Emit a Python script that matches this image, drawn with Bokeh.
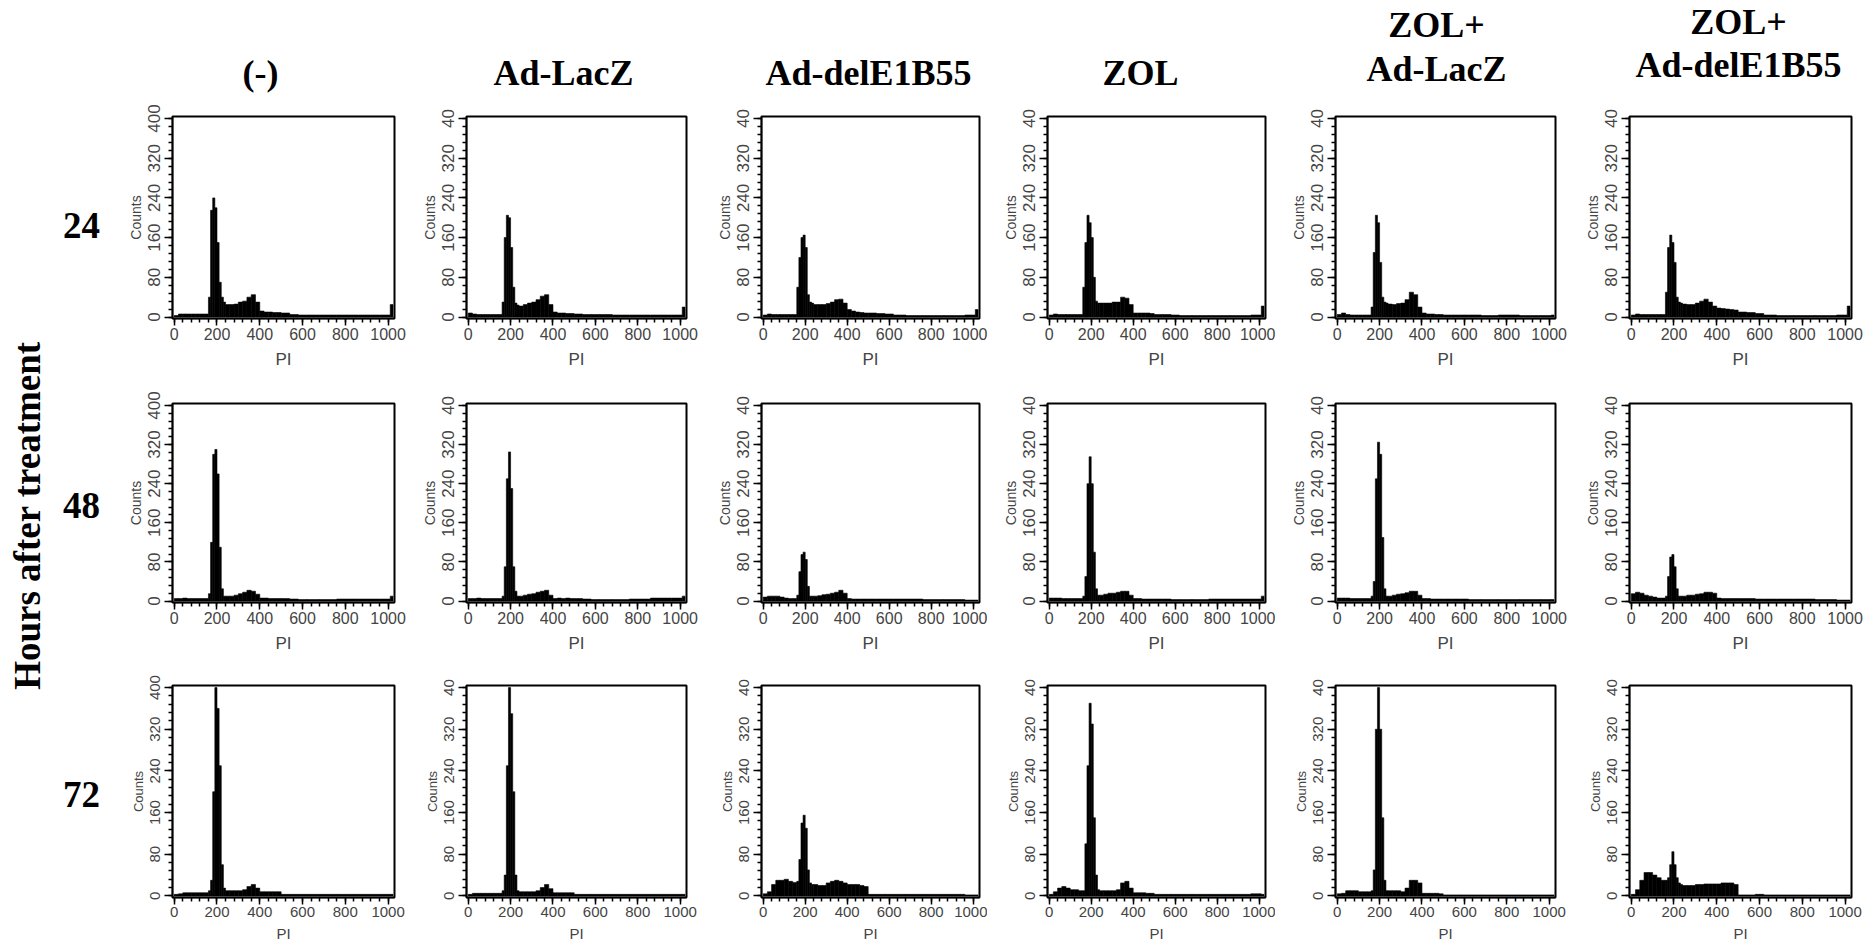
import math
from bokeh.plotting import figure
from bokeh.layouts import row, column
from bokeh.models import Range1d, FixedTicker
from bokeh.core.properties import value
from bokeh.embed import file_html
from bokeh.resources import INLINE

# ---------------- data ----------------
treatments = ["(-)", "Ad-LacZ", "Ad-delE1B55", "ZOL", "ZOL+\nAd-LacZ", "ZOL+\nAd-delE1B55"]
hours = ["24", "48", "72"]
side_title = "Hours after treatment"
x_label = "PI"
y_label = "Counts"
x_ticks = [0, 200, 400, 600, 800, 1000]
y_ticks = [0, 80, 160, 240, 320, 400]

# PI bin edges (channel units)
edges = [0, 20, 40, 60, 80, 100, 120, 140, 160, 170, 180, 190, 200, 210, 220, 230, 240,
         260, 280, 300, 320, 340, 360, 380, 400, 420, 440, 460, 480, 500, 540, 580, 620,
         680, 760, 860, 960, 1010, 1023]

# 24 h
h24_neg   = [3, 6, 6, 6, 6, 6, 6, 6, 40, 215, 240, 220, 150, 70, 40, 30, 25, 25, 26, 30, 32, 40, 45, 30, 12, 10, 10, 9, 9, 8, 5, 4, 4, 4, 4, 4, 4, 25]
h24_lacz  = [8, 6, 5, 5, 5, 5, 5, 5, 30, 160, 205, 200, 140, 60, 28, 24, 22, 25, 28, 30, 35, 42, 45, 25, 10, 8, 8, 7, 7, 6, 5, 5, 5, 4, 4, 4, 4, 20]
h24_del   = [4, 6, 5, 5, 5, 5, 5, 5, 60, 120, 160, 165, 140, 45, 30, 28, 25, 25, 25, 27, 30, 35, 36, 28, 15, 12, 10, 9, 8, 8, 7, 6, 4, 3, 3, 3, 4, 15]
h24_zol   = [4, 6, 5, 5, 5, 5, 5, 5, 60, 150, 205, 190, 160, 80, 32, 28, 28, 28, 28, 30, 30, 40, 38, 25, 8, 8, 8, 8, 7, 5, 5, 4, 3, 3, 3, 3, 4, 22]
h24_zlacz = [5, 8, 5, 4, 4, 4, 4, 4, 20, 130, 205, 190, 110, 40, 30, 28, 26, 25, 27, 28, 35, 50, 45, 20, 8, 6, 6, 5, 5, 4, 4, 4, 4, 3, 4, 3, 3, 4]
h24_zdel  = [4, 6, 5, 5, 5, 5, 5, 5, 50, 140, 165, 150, 110, 40, 30, 28, 26, 25, 25, 28, 32, 36, 30, 22, 18, 17, 16, 15, 14, 10, 9, 7, 4, 3, 3, 3, 4, 22]
# 48 h
h48_neg   = [5, 5, 6, 5, 5, 5, 5, 5, 15, 120, 300, 310, 260, 110, 25, 10, 10, 10, 12, 15, 18, 22, 20, 14, 6, 6, 5, 5, 5, 5, 4, 3, 3, 3, 4, 4, 4, 10]
h48_lacz  = [5, 5, 6, 5, 5, 5, 5, 5, 10, 70, 250, 305, 230, 70, 20, 10, 10, 12, 14, 15, 18, 20, 22, 12, 5, 6, 5, 6, 5, 5, 4, 3, 3, 3, 4, 6, 6, 10]
h48_del   = [8, 10, 10, 10, 8, 6, 5, 5, 12, 60, 95, 100, 85, 30, 10, 10, 10, 11, 13, 14, 16, 18, 22, 16, 5, 4, 4, 4, 4, 4, 4, 4, 4, 4, 3, 3, 2, 2]
h48_zol   = [6, 6, 6, 5, 5, 5, 5, 5, 10, 50, 240, 295, 240, 100, 25, 12, 12, 14, 16, 16, 18, 20, 20, 12, 5, 5, 4, 4, 4, 4, 4, 3, 3, 3, 4, 4, 4, 10]
h48_zlacz = [6, 6, 6, 5, 5, 5, 5, 5, 10, 40, 250, 325, 300, 130, 25, 10, 10, 12, 14, 15, 17, 20, 20, 12, 5, 5, 4, 4, 4, 4, 4, 4, 3, 3, 3, 3, 3, 3]
h48_zdel  = [15, 18, 16, 12, 10, 8, 6, 6, 10, 50, 90, 95, 70, 25, 10, 10, 10, 12, 12, 14, 15, 18, 18, 16, 6, 5, 5, 5, 5, 5, 5, 4, 4, 4, 4, 3, 2, 2]
# 72 h
h72_neg   = [3, 4, 6, 6, 6, 6, 6, 6, 10, 30, 200, 400, 360, 250, 60, 15, 10, 10, 10, 10, 12, 18, 22, 15, 8, 8, 8, 8, 8, 3, 3, 3, 3, 3, 3, 3, 3, 3]
h72_lacz  = [3, 5, 5, 5, 5, 5, 5, 5, 10, 40, 250, 400, 350, 200, 40, 10, 8, 8, 8, 8, 10, 16, 22, 14, 6, 6, 6, 6, 6, 3, 3, 3, 3, 3, 3, 3, 3, 3]
h72_del   = [4, 8, 22, 30, 30, 32, 28, 26, 28, 70, 140, 155, 130, 50, 25, 22, 22, 20, 20, 25, 28, 30, 28, 25, 22, 22, 22, 20, 18, 3, 3, 3, 3, 3, 3, 3, 2, 2]
h72_zol   = [3, 8, 15, 18, 15, 12, 12, 10, 10, 100, 250, 370, 330, 150, 40, 12, 10, 10, 10, 10, 12, 25, 28, 15, 6, 6, 6, 5, 5, 3, 3, 3, 3, 3, 3, 3, 4, 3]
h72_zlacz = [4, 5, 10, 10, 10, 8, 8, 8, 10, 50, 320, 400, 320, 150, 30, 10, 10, 10, 10, 8, 15, 30, 30, 25, 5, 5, 5, 5, 4, 2, 2, 2, 2, 2, 2, 2, 2, 2]
h72_zdel  = [3, 12, 30, 45, 45, 40, 35, 30, 30, 35, 60, 85, 60, 35, 25, 22, 20, 20, 20, 22, 22, 23, 23, 23, 23, 25, 25, 25, 22, 2, 2, 3, 2, 2, 2, 2, 2, 2]

panels = [
    [h24_neg, h24_lacz, h24_del, h24_zol, h24_zlacz, h24_zdel],
    [h48_neg, h48_lacz, h48_del, h48_zol, h48_zlacz, h48_zdel],
    [h72_neg, h72_lacz, h72_del, h72_zol, h72_zlacz, h72_zdel],
]
# top y tick label as printed (clipped "40" in most panels)
top_labels = [
    ["400", "40", "40", "40", "40", "40"],
    ["400", "40", "40", "40", "40", "40"],
    ["400", "40", "40", "40", "40", "40"],
]

# ---------------- layout (page pixels, origin at top-left of page) ----------------
PAGE_R = 1864
BL = 60
frame_left = [172, 466, 761, 1047, 1335, 1629]
frame_w = [222, 220, 218, 218, 220, 222]
fig_w = [frame_left[i + 1] - frame_left[i] for i in range(5)] + [PAGE_R - (frame_left[5] - BL)]
TB = 14
frame_h = [202, 199, 212]
fig_h = [287, 282, 274]
TITLE_H = 102
LEFT_W = frame_left[0] - BL

# per-row axis text sizes / offsets
x_lab_size = ["16px", "16px", "15px"]
x_title_size = ["17px", "17px", "15px"]
x_title_standoff = [7, 7, 5]
y_lab_size = ["17px", "17px", "15px"]
y_title_size = ["14px", "14px", "13px"]

serif = value("Liberation Serif")
SANS = "Liberation Sans"


def make_panel(counts, r, c):
    fw, fh = frame_w[c], frame_h[r]
    p = figure(frame_width=fw, frame_height=fh,
               x_range=Range1d(-8, 1030), y_range=Range1d(-3, 404),
               min_border_left=BL, min_border_right=fig_w[c] - BL - fw,
               min_border_top=TB, min_border_bottom=fig_h[r] - TB - fh,
               toolbar_location=None, output_backend="svg",
               background_fill_color="white", border_fill_color="white")
    p.quad(left=edges[:-1], right=edges[1:], bottom=0, top=counts,
           fill_color="black", line_color="black", line_width=0.6)
    p.xgrid.grid_line_color = None
    p.ygrid.grid_line_color = None
    p.outline_line_color = "black"
    p.outline_line_width = 2
    p.outline_line_alpha = 1

    xa = p.xaxis[0]
    xa.ticker = FixedTicker(ticks=x_ticks, minor_ticks=list(range(0, 1030, 40)))
    xa.axis_label = x_label
    xa.axis_label_text_font = SANS
    xa.axis_label_text_font_size = x_title_size[r]
    xa.axis_label_text_font_style = "normal"
    xa.axis_label_standoff = x_title_standoff[r]
    xa.major_label_text_font = SANS
    xa.major_label_text_font_size = x_lab_size[r]
    xa.major_label_standoff = 2
    xa.major_tick_out = 7
    xa.major_tick_in = 0
    xa.minor_tick_out = 4
    xa.minor_tick_in = 0
    xa.major_tick_line_width = 1.5
    xa.minor_tick_line_width = 1.5
    xa.axis_line_width = 1.5

    ya = p.yaxis[0]
    ya.ticker = FixedTicker(ticks=y_ticks, minor_ticks=list(range(0, 401, 16)))
    ya.major_label_overrides = {400: top_labels[r][c]}
    ya.axis_label = y_label
    ya.axis_label_text_font = SANS
    ya.axis_label_text_font_size = y_title_size[r]
    ya.axis_label_text_font_style = "normal"
    ya.axis_label_standoff = 2
    ya.major_label_orientation = "parallel"
    ya.major_label_text_font = SANS
    ya.major_label_text_font_size = y_lab_size[r]
    ya.major_label_standoff = 4
    ya.major_tick_out = 8
    ya.major_tick_in = 0
    ya.minor_tick_out = 4
    ya.minor_tick_in = 0
    ya.major_tick_line_width = 1.5
    ya.minor_tick_line_width = 1.5
    ya.axis_line_width = 1.5
    return p


rows = []
for r in range(3):
    rows.append(row(*[make_panel(panels[r][c], r, c) for c in range(6)], spacing=0))
grid = column(*rows, spacing=0)

# column titles
title_x = [260, 563, 868, 1140, 1436, 1738]
title_y_single = 72
title_y_double = [[24, 68], [21, 64]]
tx, ty, tt = [], [], []
k = 0
for c, name in enumerate(treatments):
    lines = name.split("\n")
    if len(lines) == 1:
        tx.append(title_x[c]); ty.append(title_y_single); tt.append(lines[0])
    else:
        for j, ln in enumerate(lines):
            tx.append(title_x[c]); ty.append(title_y_double[k][j]); tt.append(ln)
        k += 1

tf = figure(width=PAGE_R, height=TITLE_H, x_range=Range1d(0, PAGE_R), y_range=Range1d(TITLE_H, 0),
            toolbar_location=None, output_backend="svg", min_border=0,
            background_fill_color="white", border_fill_color="white")
tf.axis.visible = False
tf.grid.visible = False
tf.outline_line_color = None
tf.text(x=tx, y=ty, text=tt, text_font=serif, text_font_style="bold", text_font_size="36px",
        text_align="center", text_baseline="middle", text_color="black")

# left labels
LH = sum(fig_h)
lf = figure(width=LEFT_W, height=LH, x_range=Range1d(0, LEFT_W),
            y_range=Range1d(TITLE_H + LH, TITLE_H),
            toolbar_location=None, output_backend="svg", min_border=0,
            background_fill_color="white", border_fill_color="white")
lf.axis.visible = False
lf.grid.visible = False
lf.outline_line_color = None
row_label_y = [225, 505, 794]
lf.text(x=[81] * 3, y=row_label_y, text=hours, text_font=serif, text_font_style="bold",
        text_font_size="37px", text_align="center", text_baseline="middle", text_color="black")
lf.text(x=[27], y=[515], text=[side_title], angle=math.pi / 2, text_font=serif, text_font_style="bold",
        text_font_size="37px", text_align="center", text_baseline="middle", text_color="black")

layout = column(tf, row(lf, grid, spacing=0), spacing=0)

open("out.html", "w").write(file_html(layout, INLINE))
